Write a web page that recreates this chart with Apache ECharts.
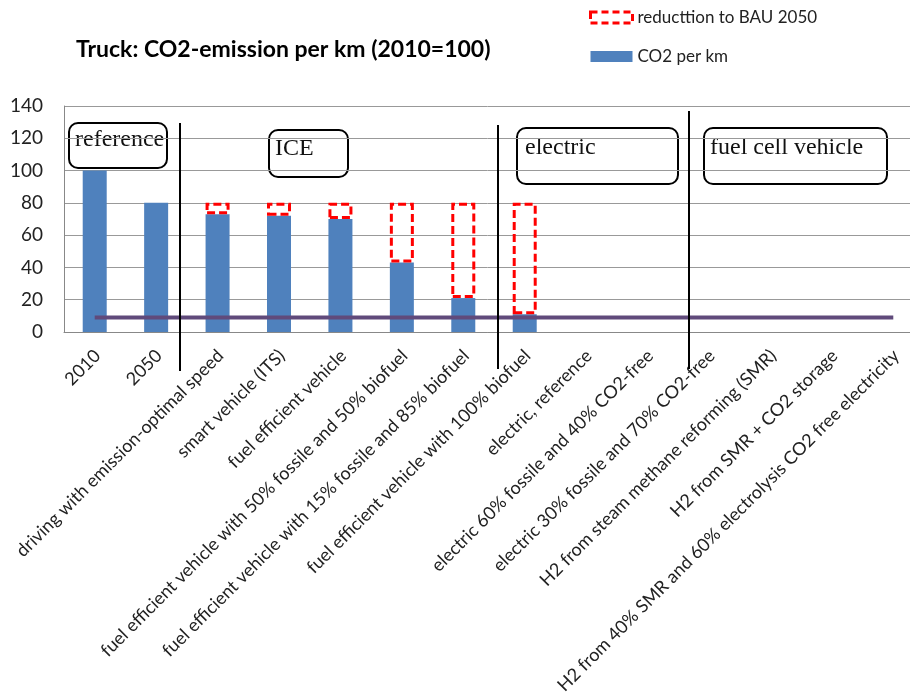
<!DOCTYPE html>
<html>
<head>
<meta charset="utf-8">
<script src="https://cdn.jsdelivr.net/npm/echarts@6/dist/echarts.min.js"></script>
<style>
  html, body { margin: 0; padding: 0; background: #fff; overflow: hidden; }
  #chart { width: 910px; height: 692px; }
</style>
</head>
<body>
<div id="chart"></div>
<script>
// categories along the x axis
const categories = [
  '2010',
  '2050',
  'driving with emission-optimal speed',
  'smart vehicle (ITS)',
  'fuel efficient vehicle',
  'fuel efficient vehicle with 50% fossile and 50% biofuel',
  'fuel efficient vehicle with 15% fossile and 85% biofuel',
  'fuel efficient vehicle with 100% biofuel',
  'electric, reference',
  'electric 60% fossile and 40% CO2-free',
  'electric 30% fossile and 70% CO2-free',
  'H2 from steam methane reforming (SMR)',
  'H2 from SMR + CO2 storage',
  'H2 from 40% SMR and 60% electrolysis CO2 free electricity',
]

// CO2 per km (2010 = 100)
const co2PerKm = [100, 80, 73, 72, 70, 43, 21, 11, null, null, null, null, null, null]

// reduction up to the BAU 2050 level (80)
const reduction = [null, null, 7, 8, 10, 37, 59, 69, null, null, null, null, null, null]

// flat purple level line
const levelLine = [9, 9, 9, 9, 9, 9, 9, 9, 9, 9, 9, 9, 9, 9]

const yTicks = { min: 0, max: 140, interval: 20 }

const groupLabels = ['reference', 'ICE', 'electric', 'fuel cell vehicle']

const chart = echarts.init(document.getElementById('chart'))

const boxFont = '24px "Liberation Serif"'
const makeBox = (label, x, y, w, h, dx, dy) => ({
  type: 'group',
  z: 100,
  children: [
    {
      type: 'rect',
      shape: { x: x, y: y, width: w, height: h, r: 9 },
      style: { fill: '#fff', stroke: '#000', lineWidth: 2 },
    },
    {
      type: 'text',
      x: x + dx,
      y: y + dy,
      style: { text: label, font: boxFont, fill: '#111', verticalAlign: 'top' },
    },
  ],
})

const makeLine = (x, y1, y2) => ({
  type: 'line',
  z: 110,
  shape: { x1: x, y1: y1, x2: x, y2: y2 },
  style: { stroke: '#000', lineWidth: 2 },
})

const option = {
  backgroundColor: '#fff',
  animation: false,
  title: {
    text: 'Truck: CO2-emission per km (2010=100)',
    left: 71,
    top: 33,
    textStyle: {
      fontFamily: 'Lato',
      fontWeight: 'bold',
      fontSize: 23,
      color: '#000',
    },
  },
  legend: {
    orient: 'vertical',
    left: 584,
    top: 4,
    itemWidth: 42,
    itemHeight: 11,
    itemGap: 22,
    textStyle: {
      fontFamily: 'Lato',
      fontSize: 17,
      lineHeight: 17,
      color: '#222',
    },
    data: [
      {
        name: 'reducttion to BAU 2050',
        icon: 'rect',
        itemStyle: {
          color: 'transparent',
          borderColor: '#ff0000',
          borderWidth: 3,
          borderType: [7, 4],
        },
      },
      {
        name: 'CO2 per km',
        icon: 'rect',
        itemStyle: { color: '#4f81bd', borderWidth: 0 },
      },
    ],
  },
  grid: {
    left: 64,
    top: 106,
    width: 860,
    height: 226,
    outerBoundsMode: 'none',
  },
  xAxis: {
    type: 'category',
    data: categories,
    axisLine: { lineStyle: { color: '#888', width: 1 } },
    axisTick: { show: false },
    axisLabel: {
      interval: 0,
      rotate: 45,
      margin: 18,
      verticalAlign: 'top',
      lineHeight: 8,
      fontFamily: 'Lato',
      fontSize: 18,
      color: '#222',
    },
  },
  yAxis: {
    type: 'value',
    min: yTicks.min,
    max: yTicks.max,
    interval: yTicks.interval,
    axisLine: { show: true, lineStyle: { color: '#888', width: 1 } },
    axisTick: { show: false },
    axisLabel: {
      margin: 21,
      fontFamily: 'Lato',
      fontSize: 19,
      color: '#222',
    },
    splitLine: { lineStyle: { color: '#999', width: 1 } },
  },
  series: [
    {
      name: 'CO2 per km',
      type: 'bar',
      stack: 'total',
      barWidth: 24,
      data: co2PerKm,
      itemStyle: { color: '#4f81bd' },
    },
    {
      name: 'reducttion to BAU 2050',
      type: 'bar',
      stack: 'total',
      barWidth: 24,
      data: reduction,
      itemStyle: {
        color: 'transparent',
        borderColor: '#ff0000',
        borderWidth: 3,
        borderType: [8, 4],
      },
    },
    {
      name: 'level',
      type: 'line',
      data: levelLine,
      symbol: 'none',
      z: 5,
      lineStyle: { color: '#604a7b', width: 4 },
    },
  ],
  graphic: [
    makeBox(groupLabels[0], 69, 123, 98, 45, 6, 5),
    makeBox(groupLabels[1], 269, 130, 79, 47, 6, 7),
    makeBox(groupLabels[2], 517, 128, 161, 56, 8, 8),
    makeBox(groupLabels[3], 704, 128, 183, 56, 6, 8),
    makeLine(180, 123, 371),
    makeLine(498, 125, 369),
    makeLine(689, 111, 369),
  ],
}

chart.setOption(option)
</script>
</body>
</html>
